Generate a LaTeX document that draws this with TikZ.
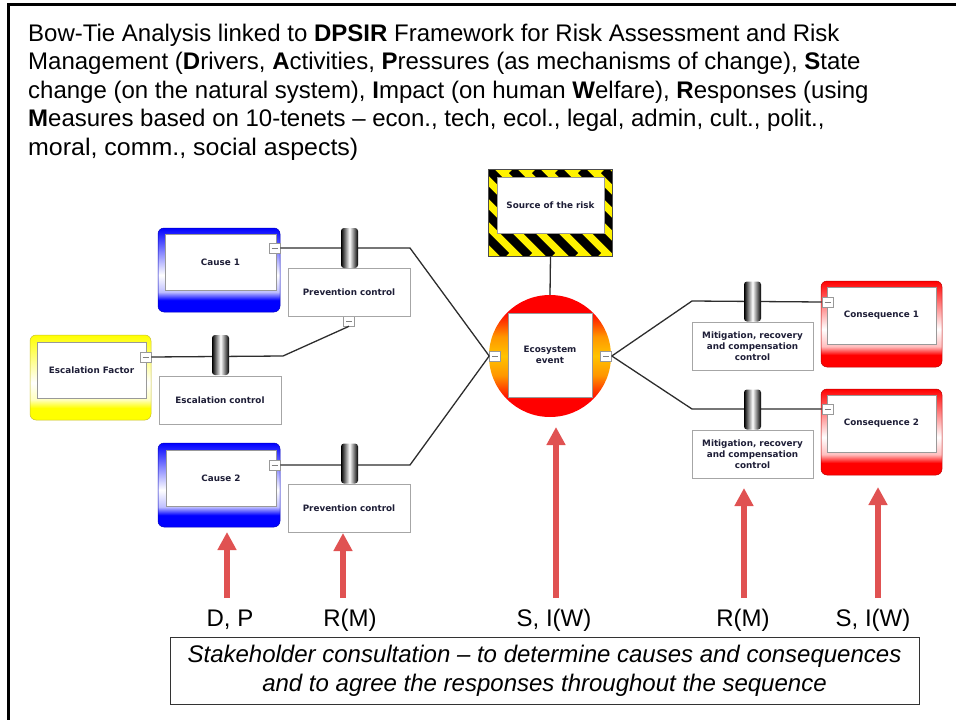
\documentclass[tikz,border=0pt]{standalone}
\usepackage{fontspec}
\setmainfont{Liberation Sans}
\newfontfamily\boxfont{DejaVu Sans}
\usetikzlibrary{arrows.meta}

\definecolor{arrowred}{RGB}{224,82,82}
\definecolor{boxtext}{RGB}{30,30,55}
\definecolor{connline}{RGB}{45,45,45}
\definecolor{evorange}{RGB}{255,150,0}
\definecolor{evyellow}{RGB}{255,195,0}

% vertical shadings: the path spans 25bp (bottom) to 75bp (top)
\pgfdeclareverticalshading{blueshade}{100bp}{color(0bp)=(blue); color(25bp)=(blue); color(32bp)=(blue);
  color(37bp)=(blue!25!white); color(47bp)=(white); color(60bp)=(blue!45!white); color(75bp)=(blue); color(100bp)=(blue)}
\pgfdeclareverticalshading{yellowshade}{100bp}{color(0bp)=(yellow); color(25bp)=(yellow); color(32bp)=(yellow);
  color(37bp)=(yellow!25!white); color(47bp)=(white); color(60bp)=(yellow!45!white); color(75bp)=(yellow); color(100bp)=(yellow)}
\pgfdeclareverticalshading{redshade}{100bp}{color(0bp)=(red); color(25bp)=(red); color(32bp)=(red);
  color(37bp)=(red!25!white); color(47bp)=(white); color(60bp)=(red!45!white); color(75bp)=(red); color(100bp)=(red)}
\pgfdeclareverticalshading{eventshade}{100bp}{color(0bp)=(red); color(25bp)=(red); color(32bp)=(red);
  color(42bp)=(evorange); color(50bp)=(evyellow); color(58bp)=(evorange); color(68bp)=(red); color(75bp)=(red); color(100bp)=(red)}

\tikzset{
  conn/.style={draw=connline, line width=1.3pt},
  colbox/.style={rounded corners=6pt, draw=#1!75!black, line width=0.5pt, inner sep=0pt},
  innerbox/.style={draw=gray!80, line width=0.6pt, fill=white, inner sep=0pt, align=center,
    font=\boxfont\bfseries\fontsize{8.8}{10.8}\selectfont, text=boxtext},
  ctrlbox/.style={draw=gray!70, line width=0.9pt, fill=white, inner sep=0pt, align=center,
    minimum width=122pt, minimum height=48pt,
    font=\boxfont\bfseries\fontsize{8.8}{10.8}\selectfont, text=boxtext},
  barrier/.style={rounded corners=3pt, left color=black, right color=black, middle color=white,
    minimum width=17pt, minimum height=40pt, inner sep=0pt},
  port/.style={draw=gray!80, fill=white, line width=0.6pt, minimum width=11pt, minimum height=10pt, inner sep=0pt,
    path picture={\draw[gray, line width=0.8pt] ([xshift=-3pt]path picture bounding box.center) -- ([xshift=3pt]path picture bounding box.center);}},
  redarrow/.style={draw=arrowred, line width=6pt, -{Triangle[width=18pt,length=18pt]}},
  lbl/.style={font=\fontsize{24}{28}\selectfont, anchor=base, inner sep=0pt},
}

\begin{document}
\begin{tikzpicture}[x=1pt,y=-1pt]
\useasboundingbox (0,0) rectangle (956,720);

% frame edges
\coordinate (fl) at (8,720);
\coordinate (fc) at (8,4);
\coordinate (fr) at (956,4);
\draw[line width=3pt] (fl) -- (fc) -- (fr);

% heading
\node[anchor=north west, align=left, inner sep=0pt, font=\fontsize{24}{28.4}\selectfont] (title) at (28,24)
{Bow-Tie Analysis linked to \textbf{DPSIR} Framework for Risk Assessment and Risk\\
Management (\textbf{D}rivers, \textbf{A}ctivities, \textbf{P}ressures (as mechanisms of change), \textbf{S}tate\\
change (on the natural system), \textbf{I}mpact (on human \textbf{W}elfare), \textbf{R}esponses (using\\
\textbf{M}easures based on 10-tenets -- econ., tech, ecol., legal, admin, cult., polit.,\\
\scalebox{1.04}[1]{moral, comm., social aspects)}};

% bend points of the connectors
\coordinate (k1) at (410,248);
\coordinate (k2) at (410,465);
\coordinate (k3) at (283,356);
\coordinate (k4) at (692,301);
\coordinate (k5) at (692,409);

% ---------- left side: causes ----------
\node[colbox=blue, shading=blueshade, minimum width=122pt, minimum height=84pt] (cause1) at (219,270) {};
\node[innerbox, minimum width=111pt, minimum height=56pt] (cause1in) at (220.5,262) {Cause 1};
\node[colbox=blue, shading=blueshade, minimum width=122pt, minimum height=84pt] (cause2) at (219,485) {};
\node[innerbox, minimum width=110pt, minimum height=56pt] (cause2in) at (221,478) {Cause 2};
\node[colbox=yellow, shading=yellowshade, minimum width=121pt, minimum height=85pt] (escf) at (90.5,377.5) {};
\node[innerbox, minimum width=109pt, minimum height=56pt] (escfin) at (91.5,370) {Escalation Factor};

% ---------- top event and hazard ----------
\node[circle, shading=eventshade, minimum size=122pt, inner sep=0pt] (event) at (550,356) {};
\node[innerbox, minimum width=84pt, minimum height=84pt] (eventin) at (550,355) {Ecosystem\\event};

\node[draw=gray!60!black, line width=0.6pt, minimum width=123pt, minimum height=86pt, inner sep=0pt] (hazard) at (550.5,213) {};
\begin{scope}
  \clip (489,170) rectangle (612,256);
  \fill[yellow] (489,170) rectangle (612,256);
  \foreach \i in {-5,...,6} {
    \draw[black, line width=8.5pt] ({489+\i*23},170) -- ++(86,86);
  }
\end{scope}
\draw[gray!60!black, line width=0.6pt] (hazard.north west) rectangle (hazard.south east);
\node[innerbox, minimum width=107pt, minimum height=56pt] (hazardin) at (550.5,205) {Source of the risk};

% ---------- right side: consequences ----------
\node[colbox=red, shading=redshade, minimum width=121pt, minimum height=86pt] (cons1) at (881.5,324) {};
\node[innerbox, minimum width=109pt, minimum height=57pt] (cons1in) at (881.5,315.5) {Consequence 1};
\node[colbox=red, shading=redshade, minimum width=121pt, minimum height=86pt] (cons2) at (881.5,432) {};
\node[innerbox, minimum width=109pt, minimum height=57pt] (cons2in) at (881.5,423.5) {Consequence 2};

% ---------- ports ----------
\node[port] (c1p) at (274.5,248) {};
\node[port] (c2p) at (274.5,465) {};
\node[port] (efp) at (145.5,357) {};
\node[port] (pc1p) at (349,321) {};
\node[port] (evl) at (495,356) {};
\node[port] (evr) at (606,356) {};
\node[port] (q1p) at (827.5,302) {};
\node[port] (q2p) at (827.5,409) {};

% ---------- connectors ----------
\draw[conn] (c1p.east) -- (k1) -- (evl.west);
\draw[conn] (c2p.east) -- (k2) -- (evl.west);
\draw[conn] (efp.east) -- (k3) -- (pc1p.south);
\draw[conn] (evr.east) -- (k4) -- (q1p.west);
\draw[conn] (evr.east) -- (k5) -- (q2p.west);
\draw[conn] (hazard.south) -- (event.north);

% ---------- controls and barriers ----------
\node[ctrlbox] (pc1) at (349,292) {Prevention control};
\node[ctrlbox] (escc) at (220,400) {Escalation control};
\node[ctrlbox] (pc2) at (349,508) {Prevention control};
\node[ctrlbox, minimum width=121pt] (mit1) at (752.5,346) {Mitigation, recovery\\and compensation\\control};
\node[ctrlbox, minimum width=121pt] (mit2) at (752.5,454) {Mitigation, recovery\\and compensation\\control};

\node[barrier] (b1) at (349.5,248) {};
\node[barrier] (be) at (220.5,355) {};
\node[barrier] (b2) at (349.5,463.5) {};
\node[barrier] (m1) at (752.5,301.5) {};
\node[barrier] (m2) at (752.5,409.5) {};

% ---------- DPSIR arrows ----------
\coordinate (a1s) at (227,598);  \coordinate (a1e) at (227,532);
\coordinate (a2s) at (343,598);  \coordinate (a2e) at (343,533);
\coordinate (a3s) at (556,598);  \coordinate (a3e) at (556,427);
\coordinate (a4s) at (744,598);  \coordinate (a4e) at (744,488);
\coordinate (a5s) at (878,598);  \coordinate (a5e) at (878,487);
\draw[redarrow] (a1s) -- (a1e);
\draw[redarrow] (a2s) -- (a2e);
\draw[redarrow] (a3s) -- (a3e);
\draw[redarrow] (a4s) -- (a4e);
\draw[redarrow] (a5s) -- (a5e);

\node[lbl] (l1) at (230,626) {D, P};
\node[lbl] (l2) at (350,626) {R(M)};
\node[lbl] (l3) at (554,626) {S, I(W)};
\node[lbl] (l4) at (743,626) {R(M)};
\node[lbl] (l5) at (873,626) {S, I(W)};

% ---------- consultation box ----------
\node[draw=black!80, line width=0.9pt, minimum width=749pt, minimum height=67pt, inner sep=0pt] (consult) at (544.5,670.5) {};
\node[align=center, inner sep=0pt, font=\itshape\fontsize{24}{29}\selectfont] (consulttext) at (544.5,671)
{Stakeholder consultation -- to determine causes and consequences\\and to agree the responses throughout the sequence};
\end{tikzpicture}
\end{document}
